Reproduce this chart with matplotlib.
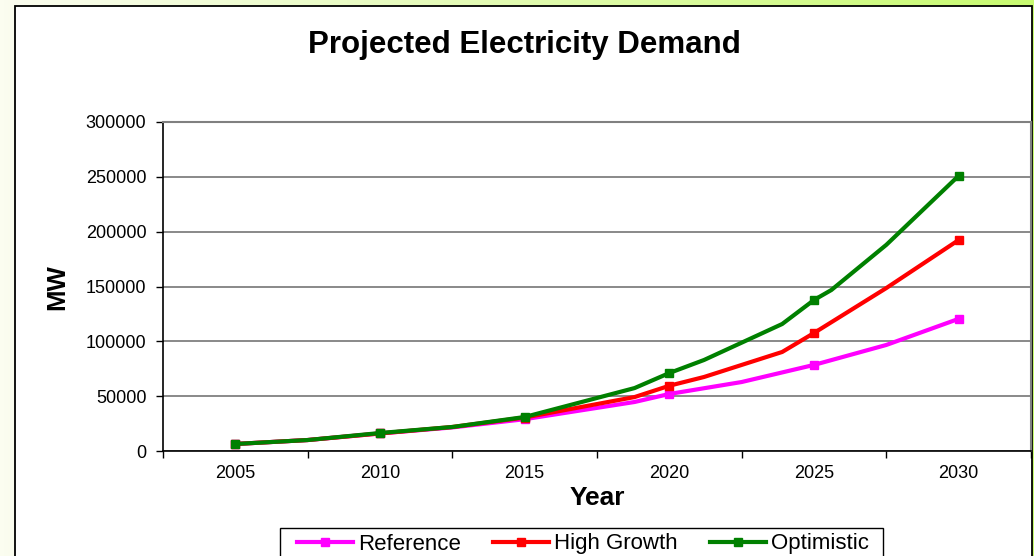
import numpy as np
import matplotlib
matplotlib.use("Agg")
import matplotlib.pyplot as plt
from matplotlib.patches import Rectangle
from matplotlib.lines import Line2D

plt.rcParams['font.family'] = ['Liberation Sans', 'DejaVu Sans']

# ---- data ----
title = "Projected Electricity Demand"
x_label = "Year"
y_label = "MW"
marker_years = [2005, 2010, 2015, 2020, 2025, 2030]

ref_years = [2005, 2007.5, 2010, 2012.5, 2015, 2018.8, 2020, 2022.5, 2025, 2027.5, 2030]
ref_vals = [6400, 10000, 16000, 21500, 29000, 44700, 52000, 62900, 78500, 96700, 120500]

high_years = [2005, 2007.5, 2010, 2012.5, 2015, 2018.8, 2020, 2021.2, 2023.9, 2025, 2027.5, 2030]
high_vals = [6400, 10000, 16000, 21900, 30500, 49200, 59500, 67500, 90300, 107600, 148600, 192400]

opt_years = [2005, 2007.5, 2010, 2012.5, 2015, 2018.8, 2020, 2021.2, 2023.9, 2025, 2025.6, 2027.5, 2030]
opt_vals = [6400, 10000, 16400, 21900, 31000, 57400, 71100, 83000, 115800, 137700, 146800, 188000, 251000]

series_names = ["Reference", "High Growth", "Optimistic"]
series_colors = ["#FF00FF", "#FF0000", "#008000"]
y_ticks = [0, 50000, 100000, 150000, 200000, 250000, 300000]
x_labels = ["2005", "2010", "2015", "2020", "2025", "2030"]

W, H = 1034, 556
fig = plt.figure(figsize=(W / 100, H / 100), dpi=100)

# background gradient (pale to yellow-green)
bg = fig.add_axes([0, 0, 1, 1], zorder=-10)
bg.axis('off')
c0 = np.array([0xfb, 0xfd, 0xf0]) / 255.0
c1 = np.array([0xc8, 0xfa, 0x70]) / 255.0
t = np.linspace(0, 1, 256)[None, :, None]
img = c0[None, None, :] * (1 - t) + c1[None, None, :] * t
bg.imshow(img, aspect='auto', extent=[0, 1, 0, 1])
bg.set_xlim(0, 1)
bg.set_ylim(0, 1)

# chart area
fig.patches.append(Rectangle((15 / W, -0.05), (1032 - 15) / W, 1.05 - 5.5 / H,
                             transform=fig.transFigure, facecolor='white',
                             edgecolor='black', lw=1.3, zorder=-5))

ax = fig.add_axes([163 / W, 1 - 451 / H, (1031 - 163) / W, (451 - 122) / H])
ax.set_facecolor('white')

all_years = [ref_years, high_years, opt_years]
all_vals = [ref_vals, high_vals, opt_vals]
for yrs, vals, name, col in zip(all_years, all_vals, series_names, series_colors):
    idx = [i for i, yv in enumerate(yrs) if yv in marker_years]
    ax.plot(yrs, vals, color=col, lw=3.0, marker='s', ms=5.5, markevery=idx,
            label=name, solid_joinstyle='miter')

ax.set_xlim(2002.5, 2032.5)
ax.set_ylim(0, 300000)
ax.set_yticks(y_ticks)
ax.set_yticklabels([str(v) for v in y_ticks], fontsize=13)
ax.yaxis.grid(True, color='#6a6a6a', lw=1.1)
ax.set_axisbelow(True)

ax.set_xticks(np.arange(2002.5, 2033, 5))
ax.set_xticklabels([])
ax.set_xticks(marker_years, minor=True)
ax.set_xticklabels(x_labels, minor=True, fontsize=13)
ax.tick_params(axis='x', which='major', length=5, width=1, direction='out')
ax.tick_params(axis='x', which='minor', length=0, pad=10)
ax.tick_params(axis='y', length=5, width=1, direction='out', pad=7)

for s in ['left', 'bottom']:
    ax.spines[s].set_color('black')
    ax.spines[s].set_linewidth(1.2)
for s in ['top', 'right']:
    ax.spines[s].set_color('#808080')
    ax.spines[s].set_linewidth(1.5)

fig.text(524 / W, 1 - 45 / H, title, ha='center', va='center',
         fontsize=22.5, fontweight='bold')
fig.text(597 / W, 1 - 498 / H, x_label, ha='center', va='center',
         fontsize=19, fontweight='bold')
fig.text(57 / W, 1 - 287 / H, y_label, ha='center', va='center',
         fontsize=18.5, fontweight='bold', rotation=90)

# legend frame
fig.patches.append(Rectangle((280 / W, 1 - 580 / H), (883 - 280) / W, (580 - 528) / H,
                             transform=fig.transFigure, facecolor='white',
                             edgecolor='black', lw=1.0, zorder=1))
handles = [Line2D([0], [0], color=c, lw=3.0, marker='s', ms=5.5) for c in series_colors]
fig.legend(handles, series_names, loc='center left',
           bbox_to_anchor=(297 / W, 1 - 544 / H), frameon=False, ncol=3,
           fontsize=16, handlelength=2.5, handletextpad=0.25,
           columnspacing=1.45, borderpad=0, borderaxespad=0)

fig.savefig("out.png", dpi=100)
